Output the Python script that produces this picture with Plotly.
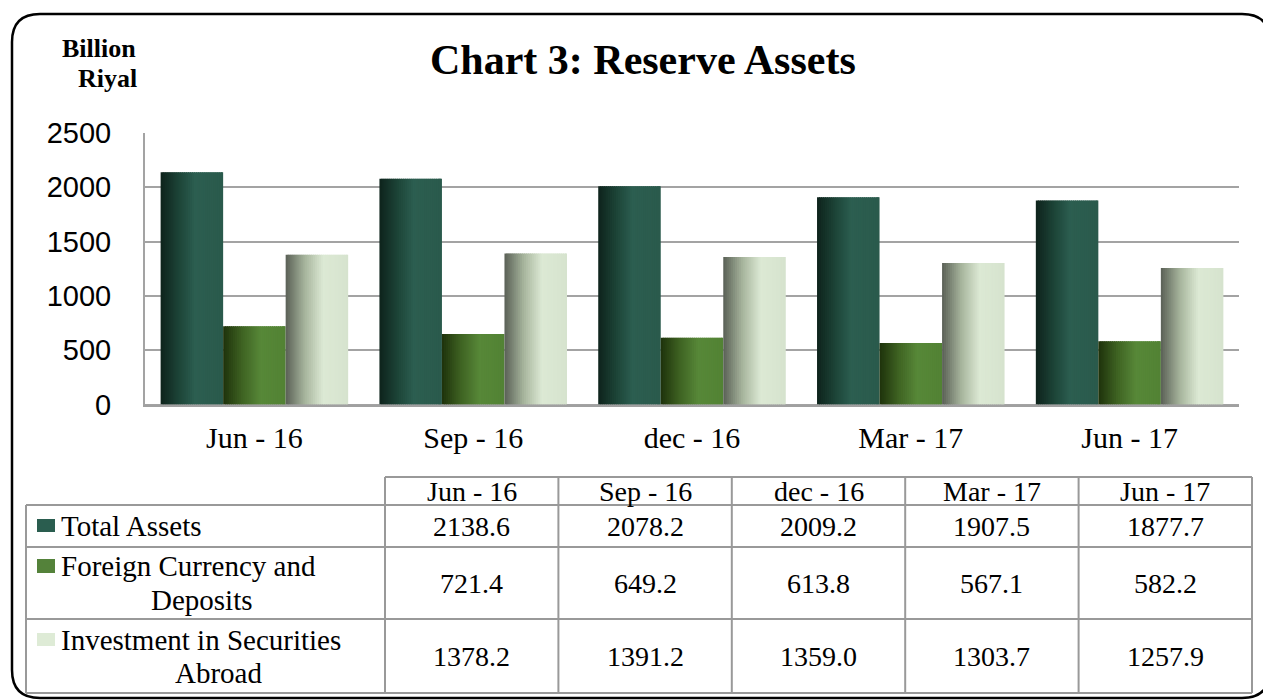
import plotly.graph_objects as go

# ---------------- data ----------------
categories = ["Jun - 16", "Sep - 16", "dec - 16", "Mar - 17", "Jun - 17"]
total_assets = [2138.6, 2078.2, 2009.2, 1907.5, 1877.7]
foreign_currency = [721.4, 649.2, 613.8, 567.1, 582.2]
investment_abroad = [1378.2, 1391.2, 1359.0, 1303.7, 1257.9]
table_values = [
    ["2138.6", "2078.2", "2009.2", "1907.5", "1877.7"],
    ["721.4", "649.2", "613.8", "567.1", "582.2"],
    ["1378.2", "1391.2", "1359.0", "1303.7", "1257.9"],
]
series_names = ["Total Assets", "Foreign Currency and Deposits", "Investment in Securities Abroad"]
y_ticks = [0, 500, 1000, 1500, 2000, 2500]

W, H = 1263, 700
SERIF = "Liberation Serif, Times New Roman, serif"
SANS = "Liberation Sans, Arial, sans-serif"


def px(x):
    return x / W


def py(y):
    return 1 - y / H


def hex2rgb(h):
    h = h.lstrip("#")
    return [int(h[i:i + 2], 16) for i in (0, 2, 4)]


def grad(stops, t):
    for (t0, c0), (t1, c1) in zip(stops, stops[1:]):
        if t0 <= t <= t1:
            f = (t - t0) / (t1 - t0) if t1 > t0 else 0
            a, b = hex2rgb(c0), hex2rgb(c1)
            return "rgb(%d,%d,%d)" % tuple(round(a[k] + (b[k] - a[k]) * f) for k in range(3))
    return stops[-1][1]


gradients = [
    [(0, "#0e231c"), (0.3, "#1d4538"), (0.55, "#2c5e50"), (1, "#2a5a4c")],
    [(0, "#1e320b"), (0.3, "#3e6222"), (0.6, "#578838"), (1, "#528234")],
    [(0, "#5a6056"), (0.3, "#a5b39b"), (0.6, "#dce9d4"), (1, "#d6e3ce")],
]
key_colors = ["#2a5d4f", "#54823a", "#deebd6"]

fig = go.Figure()

bar_w = 1 / 3.5
N = 32
all_series = [total_assets, foreign_currency, investment_abroad]
for s, vals in enumerate(all_series):
    start = -1.5 * bar_w + s * bar_w
    step = bar_w / N
    for i in range(N):
        t = (i + 0.5) / N
        wdt = step * 1.6 if i < N - 1 else step
        fig.add_trace(go.Bar(
            x=categories, y=vals,
            offset=start + i * step,
            width=wdt,
            marker=dict(color=grad(gradients[s], t), line=dict(width=0)),
            showlegend=False, hoverinfo="skip", name=series_names[s],
        ))

# plot area
x0p, x1p = 145, 1239
ytop, ybot = 133, 404.5

fig.update_layout(
    width=W, height=H,
    autosize=False,
    margin=dict(l=0, r=0, t=0, b=0, pad=0, autoexpand=False),
    paper_bgcolor="white", plot_bgcolor="white",
    barmode="overlay",
    showlegend=False,
    xaxis=dict(
        domain=[px(x0p), px(x1p)], type="category", range=[-0.5, 4.5],
        automargin=False,
        showgrid=False, ticks="", showline=True, linecolor="#a0a0a0", linewidth=2,
        tickfont=dict(family=SERIF, size=30, color="black"),
        ticklabelstandoff=5,
    ),
    yaxis=dict(
        domain=[py(ybot), py(ytop)], range=[0, 2500], tickvals=y_ticks,
        automargin=False,
        showgrid=True, gridcolor="#a3a3a3", gridwidth=2,
        zeroline=True, zerolinecolor="#a3a3a3", zerolinewidth=2,
        showline=True, linecolor="#a3a3a3", linewidth=2, ticks="",
        tickfont=dict(family=SANS, size=29, color="black"),
        ticklabelstandoff=26,
    ),
)

shapes = []
annotations = []

# rounded frame
fx0, fy0, fx1, fy1, r = 12, 14, 1270, 698, 28
path = (
    f"M {px(fx0)},{py(fy0 + r)} "
    f"Q {px(fx0)},{py(fy0)} {px(fx0 + r)},{py(fy0)} "
    f"L {px(fx1 - r)},{py(fy0)} "
    f"Q {px(fx1)},{py(fy0)} {px(fx1)},{py(fy0 + r)} "
    f"L {px(fx1)},{py(fy1 - r)} "
    f"Q {px(fx1)},{py(fy1)} {px(fx1 - r)},{py(fy1)} "
    f"L {px(fx0 + r)},{py(fy1)} "
    f"Q {px(fx0)},{py(fy1)} {px(fx0)},{py(fy1 - r)} Z"
)
shapes.append(dict(type="path", xref="paper", yref="paper", path=path,
                   line=dict(color="black", width=2.5), layer="below"))

# title and unit label
annotations.append(dict(x=px(643), y=py(60), xref="paper", yref="paper",
                        text="<b>Chart 3: Reserve Assets</b>", showarrow=False,
                        font=dict(family=SERIF, size=42, color="black"),
                        xanchor="center", yanchor="middle"))
annotations.append(dict(x=px(99), y=py(48), xref="paper", yref="paper",
                        text="<b>Billion</b>", showarrow=False,
                        font=dict(family=SERIF, size=26, color="black"),
                        xanchor="center", yanchor="middle"))
annotations.append(dict(x=px(108), y=py(78), xref="paper", yref="paper",
                        text="<b>Riyal</b>", showarrow=False,
                        font=dict(family=SERIF, size=26, color="black"),
                        xanchor="center", yanchor="middle"))

# data table
grid_c = "#999999"
lw = 2
col_edges = [385 + k * (1252 - 385) / 5 for k in range(6)]
row_edges = [505, 547, 619, 693]
head_top = 477
tab_left = 26


def hline(x0, x1, y):
    shapes.append(dict(type="line", xref="paper", yref="paper", x0=px(x0), x1=px(x1),
                       y0=py(y), y1=py(y), line=dict(color=grid_c, width=lw)))


def vline(x, y0, y1):
    shapes.append(dict(type="line", xref="paper", yref="paper", x0=px(x), x1=px(x),
                       y0=py(y0), y1=py(y1), line=dict(color=grid_c, width=lw)))


hline(col_edges[0], col_edges[-1], head_top)
for y in row_edges:
    hline(tab_left, col_edges[-1], y)
vline(tab_left, row_edges[0], row_edges[-1])
for x in col_edges:
    vline(x, head_top, row_edges[-1])

tfont = dict(family=SERIF, size=28, color="black")
for k, cat in enumerate(categories):
    cx = (col_edges[k] + col_edges[k + 1]) / 2
    annotations.append(dict(x=px(cx), y=py((head_top + row_edges[0]) / 2), xref="paper", yref="paper",
                            text=cat, showarrow=False, font=tfont,
                            xanchor="center", yanchor="middle"))
    for r_i in range(3):
        cy = (row_edges[r_i] + row_edges[r_i + 1]) / 2
        annotations.append(dict(x=px(cx), y=py(cy), xref="paper", yref="paper",
                                text=table_values[r_i][k], showarrow=False, font=tfont,
                                xanchor="center", yanchor="middle"))

# row labels with colour keys
key_boxes = [(519, 532), (559, 573), (633, 646)]
for r_i, (ky0, ky1) in enumerate(key_boxes):
    shapes.append(dict(type="rect", xref="paper", yref="paper",
                       x0=px(37), x1=px(55), y0=py(ky1), y1=py(ky0),
                       fillcolor=key_colors[r_i], line=dict(width=0)))

lfont = dict(family=SERIF, size=29, color="black")
label_lines = [
    ("Total Assets", 59, 526, "left"),
    ("Foreign Currency and", 59, 566, "left"),
    ("Deposits", 202, 600, "center"),
    ("Investment in Securities", 59, 640, "left"),
    ("Abroad", 218, 673, "center"),
]
for txt, lx, ly, anc in label_lines:
    annotations.append(dict(x=px(lx), y=py(ly), xref="paper", yref="paper",
                            text=txt, showarrow=False, font=lfont,
                            xanchor=anc, yanchor="middle"))

fig.update_layout(shapes=shapes, annotations=annotations)

fig.write_html(
    "out.html",
    config={"displayModeBar": False},
    post_script="document.body.style.margin='0';document.body.style.padding='0';"
                "document.documentElement.style.overflow='hidden';",
)
